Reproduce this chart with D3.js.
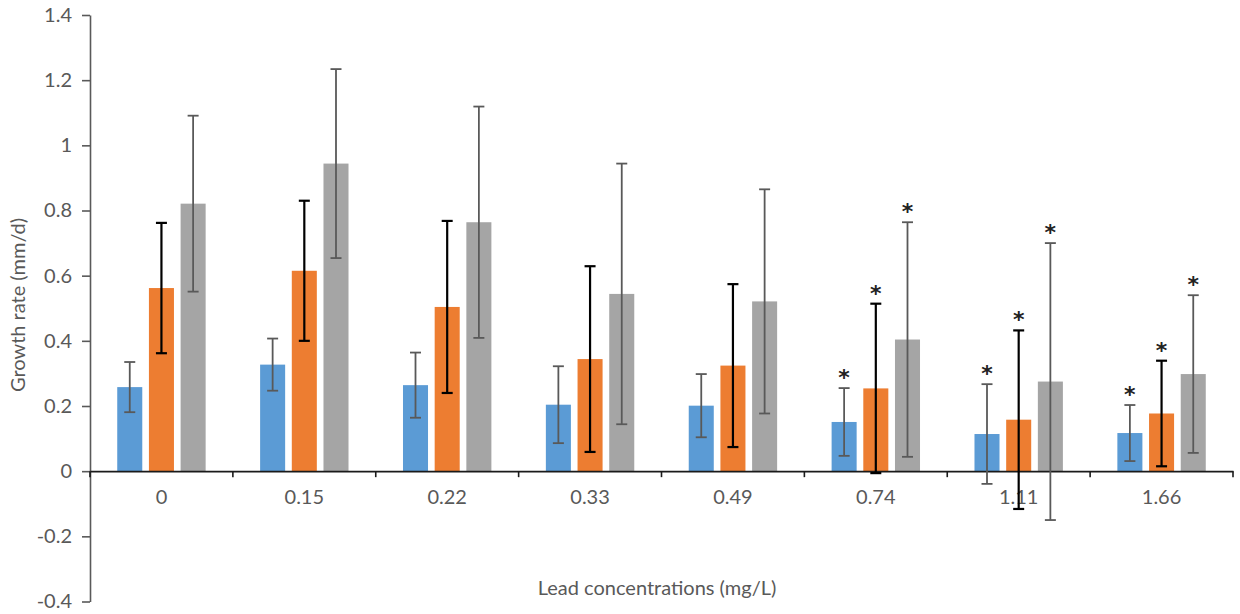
<!DOCTYPE html>
<html lang="en">
<head>
  <meta charset="UTF-8" />
  <title>Growth rate vs lead concentration</title>
  <script src="https://d3js.org/d3.v7.min.js"></script>
  <style>
    body {
      background-color: white;
      margin: 0;
      font-family: Lato, "Open Sans", sans-serif;
    }

    svg {
      display: block;
    }

    .star {
      font-size: 22px;
      font-weight: bold;
      font-family: "DejaVu Sans", sans-serif;
      fill: #222;
    }
  </style>
</head>
<body>
  <svg></svg>

  <script>
    const width = 1240;
    const height = 614;

    // data
    const categories = ["0", "0.15", "0.22", "0.33", "0.49", "0.74", "1.11", "1.66"];
    const seriesNames = ["Series1", "Series2", "Series3"];
    const blueMean   = [0.258, 0.327, 0.264, 0.204, 0.201, 0.151, 0.114, 0.117];
    const blueSd     = [0.077, 0.080, 0.100, 0.118, 0.097, 0.104, 0.153, 0.086];
    const orangeMean = [0.562, 0.615, 0.504, 0.344, 0.324, 0.254, 0.158, 0.177];
    const orangeSd   = [0.200, 0.215, 0.264, 0.285, 0.250, 0.260, 0.274, 0.162];
    const grayMean   = [0.821, 0.944, 0.764, 0.544, 0.521, 0.404, 0.275, 0.298];
    const graySd     = [0.270, 0.290, 0.355, 0.400, 0.344, 0.360, 0.425, 0.242];
    const starred    = ["0.74", "1.11", "1.66"];
    const yTicks = [-0.4, -0.2, 0, 0.2, 0.4, 0.6, 0.8, 1, 1.2, 1.4];

    const colors = { Series1: "#5b9bd5", Series2: "#ed7d31", Series3: "#a5a5a5" };
    const errColors = { Series1: "#595959", Series2: "#000000", Series3: "#595959" };
    const errWidths = { Series1: 1.8, Series2: 2.2, Series3: 1.8 };

    const means = { Series1: blueMean, Series2: orangeMean, Series3: grayMean };
    const sds = { Series1: blueSd, Series2: orangeSd, Series3: graySd };

    const rows = [];
    categories.forEach((c, i) => {
      seriesNames.forEach(s => {
        rows.push({ cat: c, series: s, mean: means[s][i], sd: sds[s][i] });
      });
    });

    const fontSize = 20;
    const labelColor = "#595959";

    const svg = d3.select("svg")
      .attr("width", width)
      .attr("height", height);

    const x0 = d3.scaleBand()
      .domain(categories)
      .range([90, 1233]);

    const bw = x0.bandwidth();
    const groupW = 88.4;
    const x1 = d3.scaleBand()
      .domain(seriesNames)
      .range([(bw - groupW) / 2, (bw + groupW) / 2])
      .paddingInner(0.21);

    const y = d3.scaleLinear()
      .domain([-0.4, 1.4])
      .range([601.5, 15]);

    // bars
    svg.append("g")
      .selectAll("rect")
      .data(rows)
      .join("rect")
      .attr("x", d => x0(d.cat) + x1(d.series))
      .attr("width", x1.bandwidth())
      .attr("y", d => y(Math.max(0, d.mean)))
      .attr("height", d => Math.abs(y(d.mean) - y(0)))
      .attr("fill", d => colors[d.series]);

    // y axis
    const yAxis = svg.append("g")
      .attr("transform", "translate(90,0)")
      .call(d3.axisLeft(y)
        .tickValues(yTicks)
        .tickFormat(d => String(+d.toFixed(1)))
        .tickSize(8)
        .tickPadding(10)
        .tickSizeOuter(0));
    yAxis.select(".domain").attr("stroke", "#595959").attr("stroke-width", 1.6);
    yAxis.selectAll(".tick line").attr("stroke", "#595959").attr("stroke-width", 1.6);
    yAxis.selectAll(".tick text")
      .attr("fill", labelColor)
      .attr("font-size", fontSize)
      .attr("font-family", "Lato, sans-serif");

    // x axis at zero: labels at band centres, ticks between categories
    const xAxis = svg.append("g")
      .attr("transform", `translate(0,${y(0)})`)
      .call(d3.axisBottom(x0).tickSize(0).tickPadding(19).tickSizeOuter(0));
    xAxis.select(".domain").attr("stroke", "#1a1a1a").attr("stroke-width", 1.6);
    xAxis.selectAll(".tick text")
      .attr("fill", labelColor)
      .attr("font-size", fontSize)
      .attr("font-family", "Lato, sans-serif");

    const bounds = categories.map(c => x0(c)).concat([x0.range()[1]]);
    xAxis.selectAll("line.cat-tick")
      .data(bounds)
      .join("line")
      .attr("class", "cat-tick")
      .attr("x1", d => d)
      .attr("x2", d => d)
      .attr("y1", 0)
      .attr("y2", 6)
      .attr("stroke", "#1a1a1a")
      .attr("stroke-width", 1.6);

    // error bars
    const errG = svg.append("g");
    const capHalf = 5.5;
    rows.forEach(d => {
      const cx = x0(d.cat) + x1(d.series) + x1.bandwidth() / 2;
      const yTop = y(d.mean + d.sd);
      const yBot = y(d.mean - d.sd);
      const g = errG.append("g")
        .attr("stroke", errColors[d.series])
        .attr("stroke-width", errWidths[d.series]);
      g.append("line").attr("x1", cx).attr("x2", cx).attr("y1", yTop).attr("y2", yBot);
      g.append("line").attr("x1", cx - capHalf).attr("x2", cx + capHalf).attr("y1", yTop).attr("y2", yTop);
      g.append("line").attr("x1", cx - capHalf).attr("x2", cx + capHalf).attr("y1", yBot).attr("y2", yBot);
    });

    // significance stars
    svg.append("g")
      .selectAll("text")
      .data(rows.filter(d => starred.includes(d.cat)))
      .join("text")
      .attr("class", "star")
      .attr("text-anchor", "middle")
      .attr("x", d => x0(d.cat) + x1(d.series) + x1.bandwidth() / 2)
      .attr("y", d => y(d.mean + d.sd) - 3)
      .text("*");

    // axis titles
    svg.append("text")
      .attr("text-anchor", "middle")
      .attr("fill", labelColor)
      .attr("font-size", fontSize)
      .attr("transform", "translate(25,305) rotate(-90)")
      .text("Growth rate (mm/d)");

    svg.append("text")
      .attr("text-anchor", "middle")
      .attr("fill", labelColor)
      .attr("font-size", fontSize)
      .attr("x", 657)
      .attr("y", 595)
      .text("Lead concentrations (mg/L)");
  </script>
</body>
</html>
